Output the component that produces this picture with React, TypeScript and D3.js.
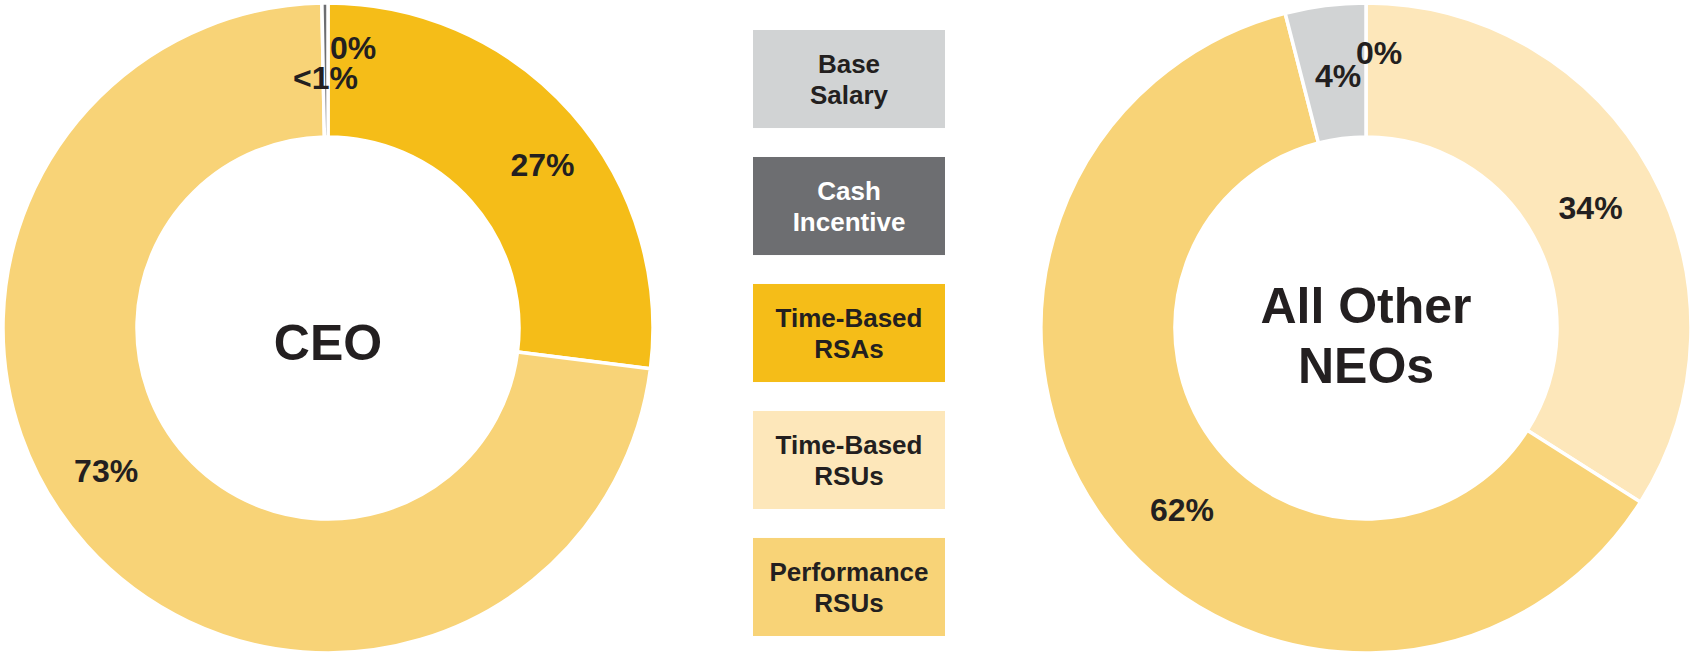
import React, { useEffect, useRef } from 'react'
import * as d3 from 'd3'

// series order as drawn clockwise from 12 o'clock
const categories = ['Time-Based RSAs', 'Time-Based RSUs', 'Performance RSUs', 'Base Salary', 'Cash Incentive']
const colors = ['#f5bd18', '#fde7ba', '#f8d377', '#d1d3d4', '#6d6e71']

const ceoValues = [27, 0, 72.7, 0, 0.3]
const ceoLabels = ['27%', '', '73%', '0%', '<1%']

const neoValues = [0, 34, 62, 4, 0]
const neoLabels = ['', '34%', '62%', '4%', '0%']

// legend (top to bottom)
const legendItems = [
    { lines: ['Base', 'Salary'], color: '#d1d3d4', text: '#231f20' },
    { lines: ['Cash', 'Incentive'], color: '#6d6e71', text: '#ffffff' },
    { lines: ['Time-Based', 'RSAs'], color: '#f5bd18', text: '#231f20' },
    { lines: ['Time-Based', 'RSUs'], color: '#fde7ba', text: '#231f20' },
    { lines: ['Performance', 'RSUs'], color: '#f8d377', text: '#231f20' },
]

const FONT = 'Liberation Sans, Arial, Helvetica, sans-serif'
const INK = '#231f20'

const App: React.FC = () => {
    const ref = useRef<SVGSVGElement | null>(null)

    useEffect(() => {
        if (!ref.current) return
        const width = 1694
        const height = 656
        const svg = d3.select(ref.current)
        svg.selectAll('*').remove()
        svg.attr('width', width).attr('height', height).attr('viewBox', `0 0 ${width} ${height}`)

        const outerR = 325
        const innerR = 191
        const arc = d3.arc<d3.PieArcDatum<number>>().innerRadius(innerR).outerRadius(outerR)
        const pie = d3.pie<number>().sort(null).value(d => d)
        const labelArc = d3.arc<d3.PieArcDatum<number>>().innerRadius(262).outerRadius(262)

        // label nudges from the slice centroid (labels were hand placed in the original)
        const nudges: Record<string, [number, number]> = {
            'ceo-0': [18, 10],
            'ceo-2': [-27, -33],
            'ceo-3': [30, -19],
            'ceo-4': [0, 11],
            'neo-1': [-5, 6],
            'neo-2': [28, 27],
            'neo-3': [5, 7],
            'neo-4': [13, -14],
        }

        const drawDonut = (key: string, cx: number, cy: number, values: number[], labels: string[], title: string[], titleShift: number) => {
            const g = svg.append('g').attr('transform', `translate(${cx},${cy})`)
            const arcs = pie(values)

            g.selectAll('path')
                .data(arcs.filter(d => d.value > 0))
                .join('path')
                .attr('d', arc)
                .attr('fill', d => colors[d.index])
                .attr('stroke', '#ffffff')
                .attr('stroke-width', 3.5)

            g.selectAll('.pct')
                .data(arcs.filter(d => labels[d.index] !== ''))
                .join('text')
                .attr('class', 'pct')
                .attr('transform', d => {
                    const [x, y] = labelArc.centroid(d)
                    const n = nudges[`${key}-${d.index}`] || [0, 0]
                    return `translate(${x + n[0]},${y + n[1]})`
                })
                .attr('text-anchor', 'middle')
                .attr('dy', '0.36em')
                .attr('font-family', FONT)
                .attr('font-weight', 700)
                .attr('font-size', 32)
                .attr('fill', INK)
                .text(d => labels[d.index])

            const lineH = 60
            g.selectAll('.title')
                .data(title)
                .join('text')
                .attr('class', 'title')
                .attr('x', 0)
                .attr('y', (_, i) => (i - (title.length - 1) / 2) * lineH + titleShift)
                .attr('dy', '0.36em')
                .attr('text-anchor', 'middle')
                .attr('font-family', FONT)
                .attr('font-weight', 700)
                .attr('font-size', 50)
                .attr('fill', INK)
                .text(d => d)
        }

        drawDonut('ceo', 328, 328, ceoValues, ceoLabels, ['CEO'], 14)
        drawDonut('neo', 1366, 328, neoValues, neoLabels, ['All Other', 'NEOs'], 7)

        // legend boxes
        const y = d3.scaleBand<number>()
            .domain(d3.range(legendItems.length))
            .range([30, 636])
            .paddingInner(0.228)
            .paddingOuter(0)
        const boxX = 753
        const boxW = 192

        const items = svg.append('g').selectAll('g')
            .data(legendItems)
            .join('g')
            .attr('transform', (_, i) => `translate(${boxX},${y(i)})`)

        items.append('rect')
            .attr('width', boxW)
            .attr('height', y.bandwidth())
            .attr('fill', d => d.color)

        items.each(function (d) {
            const t = d3.select(this)
            d.lines.forEach((line, i) => {
                t.append('text')
                    .attr('x', boxW / 2)
                    .attr('y', y.bandwidth() / 2 + (i - 0.5) * 31)
                    .attr('dy', '0.36em')
                    .attr('text-anchor', 'middle')
                    .attr('font-family', FONT)
                    .attr('font-weight', 700)
                    .attr('font-size', 26)
                    .attr('fill', d.text)
                    .text(line)
            })
        })
    }, [])

    return <svg ref={ref} style={{ position: 'absolute', left: 0, top: 0, background: '#ffffff' }}></svg>
}

export default App
